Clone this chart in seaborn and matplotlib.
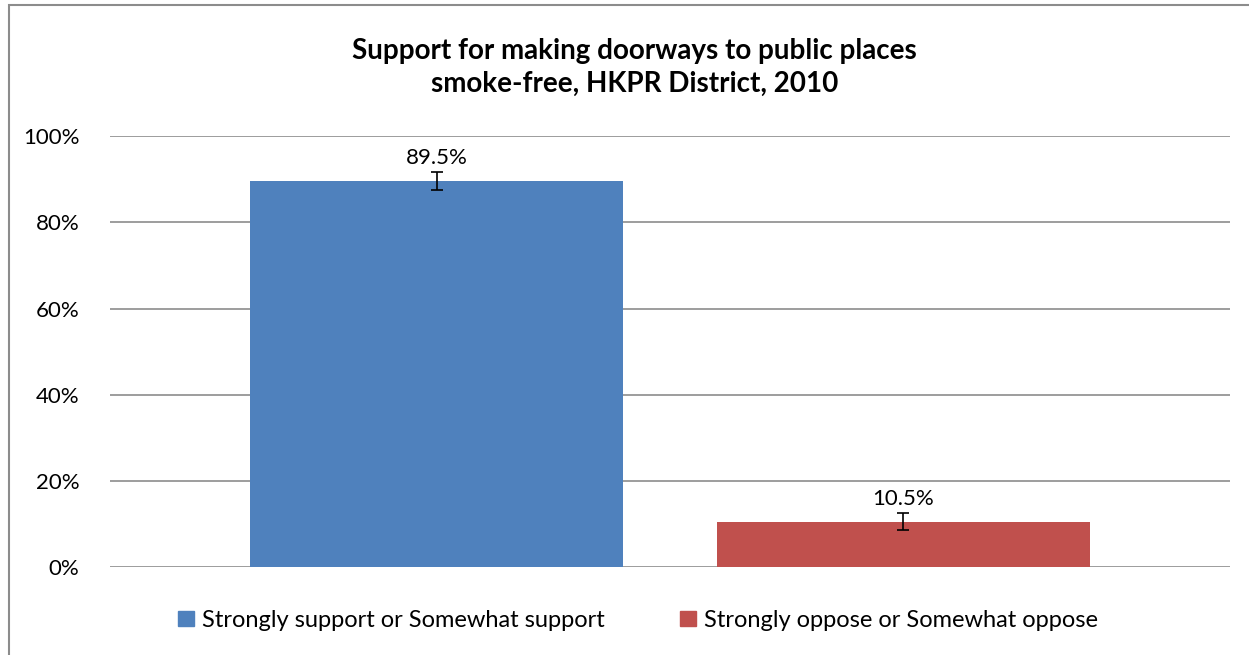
import pandas as pd
import seaborn as sns
import matplotlib.pyplot as plt
from matplotlib.patches import Rectangle
from matplotlib.ticker import PercentFormatter

# values
categories = ['Strongly support or Somewhat support', 'Strongly oppose or Somewhat oppose']
percents = [89.5, 10.5]
err_low = [2.0, 1.9]
err_high = [2.1, 2.1]
colors = ['#4F81BD', '#C0504D']

data = pd.DataFrame({'Response': categories, 'Percent': percents})

sns.set_style('white')
plt.rcParams['font.family'] = ['Lato', 'DejaVu Sans']
plt.rcParams['text.color'] = 'black'
plt.rcParams['ytick.color'] = 'black'

fig = plt.figure(figsize=(12.49, 6.55), dpi=100)
ax = fig.add_axes([0.088, 0.134, 0.897, 0.658])

sns.barplot(data=data, x='Response', y='Percent', hue='Response',
            palette=colors, width=0.8, saturation=1, legend=False,
            linewidth=0, ax=ax)

ax.errorbar(range(len(percents)), percents, yerr=[err_low, err_high],
            fmt='none', ecolor='black', elinewidth=1.2, capsize=4.5, capthick=1.2)

for i, v in enumerate(percents):
    ax.text(i, v + err_high[i] + 1.0, f'{v}%', ha='center', va='bottom', fontsize=16)

ax.set_ylim(0, 100)
ax.set_xlim(-0.7, 1.7)
ax.set_yticks(range(0, 101, 20))
ax.yaxis.set_major_formatter(PercentFormatter(decimals=0))
ax.tick_params(axis='y', labelsize=16, length=0, pad=22)
ax.set_xticks([])
ax.set_xlabel('')
ax.set_ylabel('')
ax.yaxis.grid(True, color='#8c8c8c', linewidth=1.2)
ax.set_axisbelow(True)
for s in ax.spines.values():
    s.set_visible(False)

# legend
handles = [Rectangle((0, 0), 1, 1, color=c) for c in colors]
fig.legend(handles, categories, loc='center', bbox_to_anchor=(0.511, 0.053), ncol=2,
           frameon=False, fontsize=17, handlelength=0.65, handleheight=0.65,
           handletextpad=0.35, columnspacing=3.2)

fig.text(0.508, 0.897, 'Support for making doorways to public places\nsmoke-free, HKPR District, 2010',
         ha='center', va='center', fontsize=20, fontweight='bold', linespacing=1.35)

# chart frame
fig.patches.append(Rectangle((9 / 1249, -0.1), 1.1, 1.1 - 5 / 655, transform=fig.transFigure,
                             fill=False, edgecolor='#8c8c8c', linewidth=1.5))

fig.savefig('out.png', dpi=100)
